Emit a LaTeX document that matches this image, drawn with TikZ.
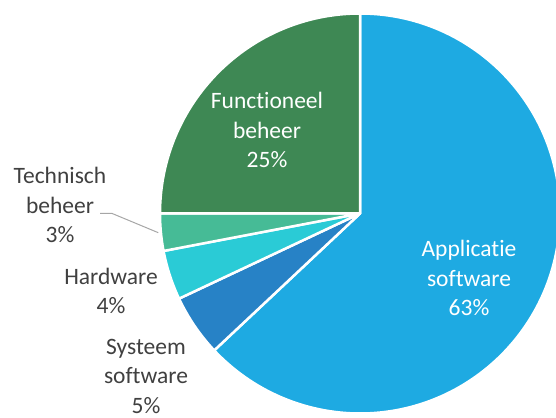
\documentclass[tikz,border=0pt]{standalone}
\usepackage{fontspec}
\setmainfont{Carlito}[Ligatures=NoCommon]
\definecolor{appblue}{RGB}{30,170,226}
\definecolor{sysblue}{RGB}{39,130,198}
\definecolor{hwcyan}{RGB}{42,203,214}
\definecolor{techteal}{RGB}{70,187,150}
\definecolor{funcgreen}{RGB}{62,136,84}
\definecolor{labelgrey}{RGB}{64,64,64}
\definecolor{leadergrey}{RGB}{166,166,166}
\tikzset{
  slice/.style={draw=white, line width=2.5pt, line join=round},
  lbl/.style={align=center, anchor=base, inner sep=0pt,
    font=\fontsize{23.5}{29.5}\selectfont},
  inlbl/.style={lbl, text=white},
  outlbl/.style={lbl, text=labelgrey},
  leader/.style={draw=leadergrey, line width=1pt}
}
\begin{document}
\begin{tikzpicture}[x=1pt,y=1pt]
\useasboundingbox (0,0) rectangle (556,417);
\clip (0,0) rectangle (556,417);
\def\R{200}
\coordinate (c) at (360,203.5);
% pie slices, clockwise from the top
\filldraw[slice, fill=appblue]   (c) -- ++(90:\R)    arc[start angle=90,    end angle=-136.8, radius=\R] -- cycle;
\filldraw[slice, fill=sysblue]   (c) -- ++(-136.8:\R) arc[start angle=-136.8, end angle=-154.8, radius=\R] -- cycle;
\filldraw[slice, fill=hwcyan]    (c) -- ++(-154.8:\R) arc[start angle=-154.8, end angle=-169.2, radius=\R] -- cycle;
\filldraw[slice, fill=techteal]  (c) -- ++(-169.2:\R) arc[start angle=-169.2, end angle=-180,   radius=\R] -- cycle;
\filldraw[slice, fill=funcgreen] (c) -- ++(180:\R)   arc[start angle=180,   end angle=90,     radius=\R] -- cycle;
% labels (anchored at the baseline of their last line)
\node[inlbl]  (func) at (267,249) {Functioneel\\beheer\\25\%};
\node[inlbl]  (app)  at (469,101) {Applicatie\\software\\63\%};
\node[outlbl] (tech) at (60,174)  {Technisch\\beheer\\3\%};
\node[outlbl] (hw)   at (111,103) {Hardware\\4\%};
\node[outlbl] (sys)  at (146,3.5) {Systeem\\software\\5\%};
% leader line for the small slice
\coordinate (lstart) at (100,203.7);
\coordinate (lknee)  at (111.7,203.7);
\coordinate (lend)   at (158.3,184.3);
\draw[leader] (lstart) -- (lknee) -- (lend);
\end{tikzpicture}
\end{document}
